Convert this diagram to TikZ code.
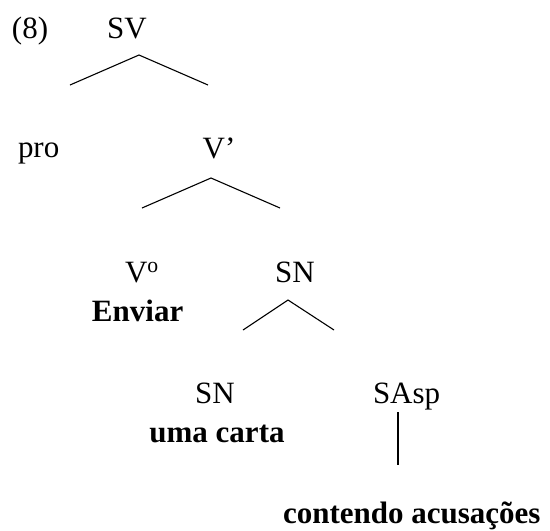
\documentclass[tikz,border=0pt]{standalone}
\usepackage{fontspec}
\setmainfont{Liberation Serif}
\begin{document}
\begin{tikzpicture}[x=1pt,y=-1pt,
  lbl/.style={inner sep=0pt,outer sep=0pt,font=\fontsize{31}{37}\selectfont},
  blbl/.style={lbl,font=\fontsize{31}{37}\selectfont\bfseries},
  branch/.style={line width=1.1pt,line join=miter}]
\useasboundingbox (0,0) rectangle (550,531);
% labels
\node[lbl,anchor=base west] (ex) at (12,38) {(8)};
\node[lbl,anchor=base] (sv) at (127,38) {SV};
\node[lbl,anchor=base west] (pro) at (18,157) {pro};
\node[lbl,anchor=base] (vbar) at (219,158) {V’};
\node[lbl,anchor=base west] (v0) at (125,282) {V\textsuperscript{o}};
\node[blbl,anchor=base west] (enviar) at (92,321) {Enviar};
\node[lbl,anchor=base] (sn) at (295,282) {SN};
\node[lbl,anchor=base] (sn2) at (215,403) {SN};
\node[blbl,anchor=base] (carta) at (217,442) {uma carta};
\node[lbl,anchor=base west] (sasp) at (373,403) {SAsp};
\node[blbl,anchor=base west] (cont) at (283,523) {contendo acusações};
% branch points
\coordinate (svL) at (70,85);
\coordinate (svT) at (139,55);
\coordinate (svR) at (208,85);
\coordinate (vbL) at (142,208);
\coordinate (vbT) at (211,178);
\coordinate (vbR) at (280,208);
\coordinate (snL) at (243,330);
\coordinate (snT) at (288,300);
\coordinate (snR) at (334,330);
\coordinate (saT) at (398,412);
\coordinate (saB) at (398,465);
% branches
\draw[branch] (svL) -- (svT) -- (svR);
\draw[branch] (vbL) -- (vbT) -- (vbR);
\draw[branch] (snL) -- (snT) -- (snR);
\draw[branch] (saT) -- (saB);
\end{tikzpicture}
\end{document}
